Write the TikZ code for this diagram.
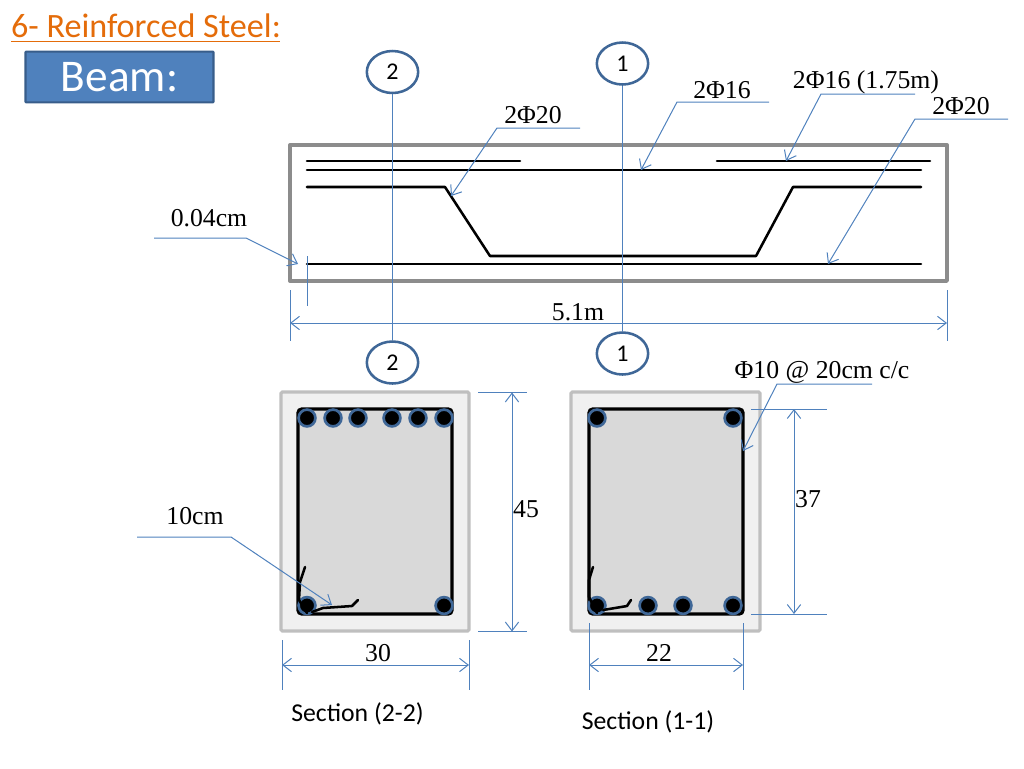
\documentclass[tikz,border=0pt]{standalone}
\usepackage{fontspec}
\setmainfont{Liberation Serif}
\newfontfamily\calfont{Carlito}
\usetikzlibrary{arrows.meta,shapes.geometric}
\definecolor{leadblue}{HTML}{4F81BD}
\definecolor{boxblue}{HTML}{385D8A}
\definecolor{ringblue}{HTML}{3F6797}
\definecolor{titleorange}{HTML}{E46C0A}
\tikzset{
	lead/.style={draw=leadblue,line width=0.75pt},
	leadarrow/.style={lead,-{Straight Barb[length=6.5pt,width=10pt,line width=0.75pt]}},
	dimarrow/.style={lead,{Straight Barb[length=6.5pt,width=10pt,line width=0.75pt]}-{Straight Barb[length=6.5pt,width=10pt,line width=0.75pt]}},
	lab/.style={inner sep=0pt,font=\fontsize{19.3}{21}\selectfont},
	caption/.style={inner sep=0pt,font=\calfont\fontsize{19.3}{21}\selectfont},
	steel/.style={line width=1.9pt,line cap=round,line join=round},
	hook/.style={line width=1.9pt,line cap=round,line join=round},
	secmark/.style={ellipse,draw=ringblue,fill=white,line width=1.9pt,minimum width=38.5pt,minimum height=31.5pt,inner sep=0pt,font=\calfont\fontsize{18}{20}\selectfont},
	rebar/.style={circle,draw=ringblue,fill=black,line width=2pt,minimum size=12.6pt,inner sep=0pt},
	concrete/.style={draw=black!25,fill=black!6,line width=2.4pt,rounded corners=1pt},
	core/.style={draw=black,fill=black!15,line width=2.6pt,rounded corners=3pt},
}
\begin{document}
\begin{tikzpicture}[x=0.75pt,y=-0.75pt]
	\useasboundingbox (0,0) rectangle (1024,768);
	% heading
	\node[inner sep=0pt,font=\calfont\fontsize{25.6}{28}\selectfont,text=titleorange] (title) at (146,26) {6- Reinforced Steel:};
	\coordinate (ula) at (11,41.5);
	\coordinate (ulb) at (280,41.5);
	\draw[titleorange,line width=1.4pt] (ula) -- (ulb);
	\node[draw=boxblue,fill=leadblue,line width=1.6pt,rounded corners=0.5pt,minimum width=141pt,minimum height=38pt,inner sep=0pt,text=white,font=\calfont\fontsize{34}{37}\selectfont] (beam) at (119.5,77) {\raisebox{-1pt}{Beam:}};
	% elevation
	\draw[draw=black!45,line width=2.5pt,line join=round] (290,145) rectangle (947,281);
	\draw[steel] (307,161) -- (520,161);
	\draw[steel] (717,161) -- (930,161);
	\draw[steel] (307,170) -- (921,170);
	\draw[steel] (307,187) -- (445,187) -- (490,256) -- (756,256) -- (793,187) -- (921,187);
	\draw[steel] (307,264) -- (921,264);
	% section marks
	\node[secmark] (mtwoa) at (392.5,72) {2};
	\node[secmark] (mtwob) at (392.5,362.5) {2};
	\node[secmark] (monea) at (622.5,63.5) {1};
	\node[secmark] (moneb) at (622.5,353.5) {1};
	\draw[lead] (mtwoa) -- (mtwob);
	\draw[lead] (monea) -- (moneb);
	% labels on the bars
	\node[lab] (lbla) at (533,115) {2Φ20};
	\coordinate (la1) at (580,128); \coordinate (la2) at (497,128); \coordinate (la3) at (451,196);
	\draw[leadarrow] (la1) -- (la2) -- (la3);
	\node[lab] (lblb) at (722,90) {2Φ16};
	\coordinate (lb1) at (769,102); \coordinate (lb2) at (677,102); \coordinate (lb3) at (641,170);
	\draw[leadarrow] (lb1) -- (lb2) -- (lb3);
	\node[lab] (lblc) at (866,82) {2Φ16 (1.75m)};
	\coordinate (lc1) at (915,94); \coordinate (lc2) at (821,94); \coordinate (lc3) at (786,161);
	\draw[leadarrow] (lc1) -- (lc2) -- (lc3);
	\node[lab] (lbld) at (961,106) {2Φ20};
	\coordinate (ld1) at (1008,119); \coordinate (ld2) at (915,119); \coordinate (ld3) at (828,264);
	\draw[leadarrow] (ld1) -- (ld2) -- (ld3);
	\node[lab] (lble) at (209,218) {0.04cm};
	\coordinate (le1) at (154,238); \coordinate (le2) at (246,238); \coordinate (le3) at (298,264);
	\draw[leadarrow] (le1) -- (le2) -- (le3);
	\coordinate (cv1) at (307,256); \coordinate (cv2) at (307,306);
	\draw[lead] (cv1) -- (cv2);
	% length
	\coordinate (ua1) at (290,290); \coordinate (ua2) at (290,341);
	\coordinate (ub1) at (947,290); \coordinate (ub2) at (947,341);
	\coordinate (uc1) at (290,323); \coordinate (uc2) at (947,323);
	\draw[lead] (ua1) -- (ua2);
	\draw[lead] (ub1) -- (ub2);
	\draw[dimarrow] (uc1) -- (uc2);
	\node[lab] (lenlab) at (578,312) {5.1m};
	% section 2-2
	\draw[concrete] (281,392) rectangle (469,631);
	\draw[core] (298,409) rectangle (452,614);
	\foreach \x in {307,333,358,392,418,444}
		\node[rebar] (bt\x) at (\x,418) {};
	\foreach \x in {307,444}
		\node[rebar] (bb\x) at (\x,605.5) {};
	\draw[hook] (305,567) -- (300,582) -- (299,600) -- (307,613);
	\draw[hook] (312,612) -- (323,608) -- (352,606) -- (358,600);
	\node[lab] (lblf) at (195,516) {10cm};
	\coordinate (lf1) at (137,537); \coordinate (lf2) at (231,537); \coordinate (lf3) at (332,605);
	\draw[leadarrow] (lf1) -- (lf2) -- (lf3);
	\coordinate (va1) at (478,392.5); \coordinate (va2) at (527,392.5);
	\coordinate (vb1) at (478,631.5); \coordinate (vb2) at (527,631.5);
	\coordinate (vc1) at (512,392.5); \coordinate (vc2) at (512,631.5);
	\draw[lead] (va1) -- (va2);
	\draw[lead] (vb1) -- (vb2);
	\draw[dimarrow] (vc1) -- (vc2);
	\node[lab] (hlab) at (526,509) {45};
	\coordinate (wa1) at (282,640); \coordinate (wa2) at (282,690);
	\coordinate (wb1) at (469,640); \coordinate (wb2) at (469,690);
	\coordinate (wc1) at (282,665); \coordinate (wc2) at (469,665);
	\draw[lead] (wa1) -- (wa2);
	\draw[lead] (wb1) -- (wb2);
	\draw[dimarrow] (wc1) -- (wc2);
	\node[lab] (wlab) at (378,653) {30};
	\node[caption] (captwo) at (357.5,714) {Section (2-2)};
	% section 1-1
	\draw[concrete] (571,392) rectangle (760,631);
	\draw[core] (589,409) rectangle (743,614);
	\foreach \x in {597,733}
		\node[rebar] (ct\x) at (\x,418) {};
	\foreach \x in {597,648,683,733}
		\node[rebar] (cb\x) at (\x,605.5) {};
	\draw[hook] (593,567) -- (589,580) -- (589,597) -- (597,613);
	\draw[hook] (603,610) -- (615,608) -- (627,606) -- (631,600);
	\node[lab] (lblg) at (822,372.5) {Φ10 @ 20cm c/c};
	\coordinate (lg1) at (872,384); \coordinate (lg2) at (777,384); \coordinate (lg3) at (743,451);
	\draw[leadarrow] (lg1) -- (lg2) -- (lg3);
	\coordinate (xa1) at (751,409); \coordinate (xa2) at (827,409);
	\coordinate (xb1) at (751,614); \coordinate (xb2) at (827,614);
	\coordinate (xc1) at (794,409); \coordinate (xc2) at (794,614);
	\draw[lead] (xa1) -- (xa2);
	\draw[lead] (xb1) -- (xb2);
	\draw[dimarrow] (xc1) -- (xc2);
	\node[lab] (hlabb) at (808,499) {37};
	\coordinate (ya1) at (589,623); \coordinate (ya2) at (589,690);
	\coordinate (yb1) at (743,623); \coordinate (yb2) at (743,690);
	\coordinate (yc1) at (589,665); \coordinate (yc2) at (743,665);
	\draw[lead] (ya1) -- (ya2);
	\draw[lead] (yb1) -- (yb2);
	\draw[dimarrow] (yc1) -- (yc2);
	\node[lab] (wlabb) at (659,653) {22};
	\node[caption] (capone) at (648,722) {Section (1-1)};
\end{tikzpicture}
\end{document}
